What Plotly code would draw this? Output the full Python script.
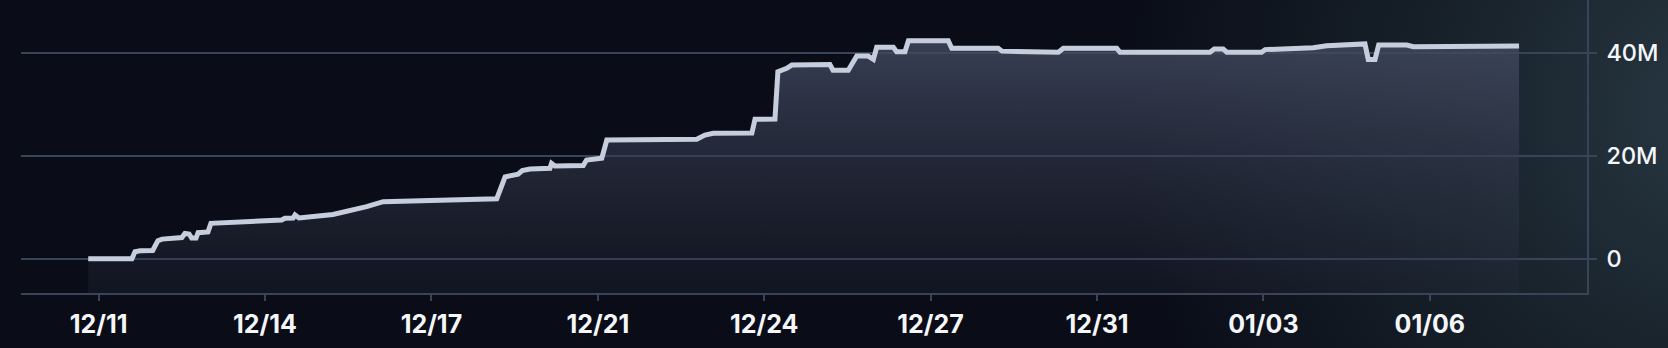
import base64
import plotly.graph_objects as go

# ---- data ----
times = [
    "2024-12-10 19:00", "2024-12-11 16:00", "2024-12-11 17:30", "2024-12-11 20:00",
    "2024-12-12 02:00", "2024-12-12 04:30", "2024-12-12 06:30", "2024-12-12 16:00",
    "2024-12-12 17:30", "2024-12-12 19:30", "2024-12-12 20:45", "2024-12-12 22:50",
    "2024-12-12 23:50", "2024-12-13 04:35", "2024-12-13 06:00", "2024-12-13 20:48",
    "2024-12-14 16:00", "2024-12-14 17:36", "2024-12-14 21:30", "2024-12-14 22:25",
    "2024-12-15 00:20", "2024-12-15 16:40", "2024-12-16 00:50", "2024-12-16 08:50",
    "2024-12-16 16:50", "2024-12-17 13:45", "2024-12-18 00:55", "2024-12-18 23:25",
    "2024-12-19 03:25", "2024-12-19 06:50", "2024-12-19 09:40", "2024-12-19 11:40",
    "2024-12-19 15:25", "2024-12-20 01:00", "2024-12-20 01:45", "2024-12-20 03:25",
    "2024-12-20 17:00", "2024-12-20 18:35", "2024-12-21 01:55", "2024-12-21 04:20",
    "2024-12-22 23:35", "2024-12-23 03:30", "2024-12-23 07:30", "2024-12-24 02:05",
    "2024-12-24 03:35", "2024-12-24 13:10", "2024-12-24 14:35", "2024-12-24 18:50",
    "2024-12-24 21:15", "2024-12-25 15:35", "2024-12-25 17:05", "2024-12-26 00:25",
    "2024-12-26 02:10", "2024-12-26 04:30", "2024-12-26 10:00", "2024-12-26 12:30",
    "2024-12-26 14:05", "2024-12-26 22:05", "2024-12-26 23:40", "2024-12-27 03:40",
    "2024-12-27 05:20", "2024-12-28 00:30", "2024-12-28 02:10", "2024-12-29 00:30",
    "2024-12-29 02:20", "2024-12-29 19:50", "2024-12-29 20:35", "2024-12-30 05:25",
    "2024-12-30 07:50", "2024-12-31 09:30", "2024-12-31 11:05", "2025-01-02 06:20",
    "2025-01-02 08:20", "2025-01-02 12:40", "2025-01-02 14:25", "2025-01-03 07:10",
    "2025-01-03 08:50", "2025-01-04 08:00", "2025-01-04 14:25", "2025-01-05 00:00",
    "2025-01-05 08:50", "2025-01-05 10:25", "2025-01-05 13:40", "2025-01-05 15:25",
    "2025-01-06 04:55", "2025-01-06 08:05", "2025-01-07 08:05", "2025-01-08 10:55",
]
values_m = [
    0.0, 0.0, 1.35, 1.55,
    1.6, 3.5, 3.8, 4.1,
    4.9, 4.8, 4.0, 4.0,
    5.05, 5.2, 6.87, 7.2,
    7.5, 7.85, 7.9, 8.5,
    7.9, 8.6, 9.3, 10.1,
    11.07, 11.26, 11.53, 11.65,
    15.9, 16.25, 16.4, 17.1,
    17.4, 17.55, 18.5, 18.0,
    18.1, 19.16, 19.5, 23.05,
    23.2, 24.0, 24.35, 24.4,
    27.07, 27.1, 36.3, 36.97,
    37.6, 37.7, 36.6, 36.6,
    37.9, 39.35, 39.35, 38.7,
    41.05, 41.05, 40.2, 40.2,
    42.3, 42.3, 40.85, 40.85,
    40.3, 40.25, 40.08, 40.08,
    40.85, 40.85, 40.08, 40.1,
    40.7, 40.7, 40.1, 40.1,
    40.6, 40.97, 41.36, 41.6,
    41.7, 38.7, 38.7, 41.5,
    41.5, 41.17, 41.17, 41.3,
]
values = [v * 1e6 for v in values_m]

y_tick_vals = [0, 20e6, 40e6]
y_tick_text = ["0", "20M", "40M"]

# ---- style ----
W, H = 1668, 348
BG = "#0a0d17"
GRID = "#3a4458"
LINE = "#c6cede"
Y_MIN, Y_MAX = -6.66e6, 50.23e6
X_MIN, X_MAX = "2024-12-09 10:41", "2025-01-09 19:35"

svg = f"""<svg xmlns='http://www.w3.org/2000/svg' width='{W}' height='{H}'>
<defs><radialGradient id='g' gradientUnits='userSpaceOnUse' cx='1720' cy='110' r='600'>
<stop offset='0' stop-color='#283843'/><stop offset='0.45' stop-color='#18222b'/>
<stop offset='1' stop-color='{BG}'/></radialGradient></defs>
<rect width='{W}' height='{H}' fill='{BG}'/>
<rect width='{W}' height='{H}' fill='url(#g)'/></svg>"""
svg_uri = "data:image/svg+xml;base64," + base64.b64encode(svg.encode()).decode()

fig = go.Figure()
fig.add_trace(go.Scatter(
    x=[times[0], times[-1]], y=[Y_MIN, Y_MIN], mode="lines",
    line=dict(width=0), hoverinfo="skip", showlegend=False,
))
fig.add_trace(go.Scatter(
    x=times, y=values, mode="lines",
    line=dict(color=LINE, width=5),
    fill="tonexty",
    fillgradient=dict(
        type="vertical",
        colorscale=[[0, "rgba(40,46,62,0.25)"], [0.5, "rgba(52,58,78,0.55)"],
                    [1, "rgba(66,74,96,0.82)"]],
    ),
    showlegend=False,
))

fig.update_layout(
    width=W, height=H,
    margin=dict(l=0, r=0, t=0, b=0),
    paper_bgcolor=BG,
    plot_bgcolor="rgba(0,0,0,0)",
    showlegend=False,
    images=[dict(source=svg_uri, xref="paper", yref="paper", x=0, y=1,
                 sizex=1, sizey=1, sizing="stretch", layer="below")],
    xaxis=dict(
        domain=[21 / W, 1587 / W],
        type="date",
        range=[X_MIN, X_MAX],
        tick0="2024-12-11", dtick=80 * 3600 * 1000, tickformat="%m/%d",
        showgrid=False, zeroline=False,
        showline=True, linecolor=GRID, linewidth=1.5,
        ticks="outside", ticklen=6, tickcolor=GRID, tickwidth=1.5,
        tickfont=dict(family="Inter", size=25, color="#f4f6fa", weight=700),
        ticklabelstandoff=2,
    ),
    yaxis=dict(
        domain=[55 / H, 1],
        side="right",
        range=[Y_MIN, Y_MAX],
        tickvals=y_tick_vals, ticktext=y_tick_text,
        showgrid=True, gridcolor=GRID, gridwidth=1.5,
        zeroline=False,
        showline=True, linecolor=GRID, linewidth=1.5,
        ticks="outside", ticklen=8, tickcolor=GRID, tickwidth=1.5,
        tickfont=dict(family="Inter", size=23.5, color="#f4f6fa", weight=500),
        ticklabelstandoff=5,
    ),
)

fig.write_html("out.html")
